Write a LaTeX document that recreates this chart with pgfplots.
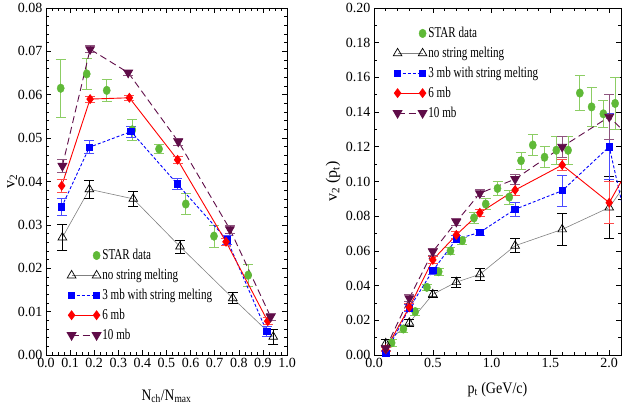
\documentclass[border=0pt]{standalone}
\usepackage{pgfplots}
\pgfplotsset{compat=1.18}
\usepackage{fontspec}
\setmainfont{Liberation Serif}
\definecolor{stargreen}{RGB}{95,185,55}
\definecolor{stargreenlt}{RGB}{140,205,100}
\definecolor{tenmb}{RGB}{95,12,72}
\pgfplotsset{
  twoend/.style={legend image code/.code={\draw[##1] plot coordinates {(0pt,0pt) (25pt,0pt)};}},
  oneend/.style={legend image code/.code={\path[draw=none,fill=none] (0pt,0pt)--(25pt,0pt); \draw[##1] plot[only marks] coordinates {(25pt,0pt)};}},
  errb/.style={error bars/y dir=both, error bars/y explicit, error bars/error bar style={#1, line width=0.7pt, solid},
     error bars/error mark options={rotate=90, mark size=5pt, #1, line width=0.7pt, solid}},
  starS/.style={only marks, mark=*, mark size=3.6pt, color=stargreen, mark options={yscale=1.2}, errb=stargreenlt, oneend},
  nosmS/.style={color=gray, line width=0.6pt, mark=triangle, mark size=5pt, mark options={black, solid, fill=white, line width=0.7pt}, errb=black, twoend},
  threeS/.style={color=blue, densely dashed, line width=0.9pt, mark=square*, mark size=3.2pt, mark options={solid}, errb={blue!70}, twoend},
  sixS/.style={color=red, line width=0.9pt, mark=diamond*, mark size=4.3pt, mark options={solid}, errb={red!70}, twoend},
  tenS/.style={color=tenmb, dashed, dash pattern=on 7pt off 4pt, line width=0.9pt, mark=triangle*, mark size=5pt, mark options={solid, rotate=180}, errb={tenmb!70}, twoend},
  common/.style={scale only axis, axis line style={line width=0.8pt}, tick align=inside,
    major tick length=5pt, minor tick length=3pt, tick style={black, line width=0.6pt},
    ticklabel style={font=\fontsize{14}{16}\selectfont},
    label style={font=\fontsize{16}{18}\selectfont},
    /pgf/number format/assume math mode=true,
    legend style={draw=none, fill=none, font=\fontsize{15}{17}\selectfont, row sep=4pt,
      nodes={xscale=0.74}},
    legend cell align=left},
}
\begin{document}
\begin{tikzpicture}[x=1pt,y=1pt]
\useasboundingbox (0,0) rectangle (627,409);
\begin{axis}[common, at={(46pt,54pt)}, anchor=south west, width=241pt, height=347pt,
  xmin=0, xmax=1, ymin=0, ymax=0.08,
  xtick={0,0.1,...,1.0}, ytick={0,0.01,...,0.08},
  minor x tick num=3, minor y tick num=4,
  xticklabel style={/pgf/number format/.cd, fixed, fixed zerofill, precision=1},
  yticklabel style={/pgf/number format/.cd, fixed, fixed zerofill, precision=2},
  scaled ticks=false,
  xlabel={N\textsubscript{ch}/N\textsubscript{max}}, ylabel={v\textsubscript{2}},
  xlabel style={at={(axis description cs:0.5,-0.13)}, anchor=base, xscale=0.85},
  ylabel style={at={(axis description cs:-0.14,0.5)}, anchor=center},
  legend style={at={(0.075,0.316)}, anchor=north west}]
\addplot[starS] coordinates {
 (0.061,0.0615) +- (0,0.0067) (0.169,0.0648) +- (0,0.0035) (0.252,0.0610) +- (0,0.0025)
 (0.358,0.0519) +- (0,0.0024) (0.469,0.0475) +- (0,0.0010) (0.580,0.0348) +- (0,0.0024)
 (0.697,0.0274) +- (0,0.0025) (0.839,0.0184) +- (0,0.0025)};
\addlegendentry{STAR data}
\addplot[nosmS] coordinates {
 (0.068,0.0271) +- (0,0.0030) (0.180,0.0382) +- (0,0.0020) (0.362,0.0360) +- (0,0.0017)
 (0.556,0.0250) +- (0,0.0015) (0.775,0.0131) +- (0,0.0013) (0.943,0.0042) +- (0,0.0018)};
\addlegendentry{no string melting}
\addplot[threeS] coordinates {
 (0.065,0.0341) +- (0,0.0020) (0.180,0.0479) +- (0,0.0015) (0.353,0.0515) +- (0,0.0013)
 (0.545,0.0394) +- (0,0.0013) (0.752,0.0265) +- (0,0.0010) (0.916,0.0054) +- (0,0.0012)};
\addlegendentry{3 mb with string melting}
\addplot[sixS] coordinates {
 (0.065,0.0390) +- (0,0.0014) (0.183,0.0590) +- (0,0.0007) (0.346,0.0593) +- (0,0.0006)
 (0.546,0.0450) +- (0,0.0008) (0.747,0.0261) +- (0,0.0008) (0.920,0.0078) +- (0,0.0008)};
\addlegendentry{6 mb}
\addplot[tenS] coordinates {
 (0.068,0.0436) +- (0,0.0015) (0.183,0.0705) +- (0,0.0008) (0.341,0.0651) +- (0,0.0006)
 (0.549,0.0492) +- (0,0.0008) (0.763,0.0290) +- (0,0.0010) (0.932,0.0088) +- (0,0.0008)};
\addlegendentry{10 mb}
\end{axis}
\begin{axis}[common, at={(374pt,54pt)}, anchor=south west, width=247pt, height=347pt,
  xmin=0, xmax=2.1, ymin=0, ymax=0.2,
  xtick={0,0.5,...,2.0}, ytick={0,0.02,...,0.2},
  minor x tick num=4, minor y tick num=1,
  xticklabel style={/pgf/number format/.cd, fixed, fixed zerofill, precision=1},
  yticklabel style={/pgf/number format/.cd, fixed, fixed zerofill, precision=2},
  scaled ticks=false,
  xlabel={p\textsubscript{t} (GeV/c)}, ylabel={v\textsubscript{2} (p\textsubscript{t})},
  xlabel style={at={(axis description cs:0.5,-0.11)}, anchor=base, xscale=0.88},
  ylabel style={at={(axis description cs:-0.166,0.5)}, anchor=center},
  legend style={at={(0.065,0.956)}, anchor=north west}]
\addplot[starS] coordinates {
 (0.15,0.007) +- (0,0.002) (0.25,0.015) +- (0,0.002) (0.35,0.025) +- (0,0.002)
 (0.45,0.039) +- (0,0.002) (0.55,0.048) +- (0,0.002) (0.65,0.060) +- (0,0.002)
 (0.75,0.066) +- (0,0.002) (0.85,0.079) +- (0,0.003) (0.95,0.087) +- (0,0.003)
 (1.05,0.096) +- (0,0.004) (1.15,0.091) +- (0,0.004) (1.25,0.112) +- (0,0.005)
 (1.35,0.121) +- (0,0.006) (1.45,0.114) +- (0,0.006) (1.55,0.118) +- (0,0.008)
 (1.65,0.118) +- (0,0.008) (1.75,0.151) +- (0,0.010) (1.85,0.143) +- (0,0.011)
 (1.95,0.139) +- (0,0.008) (2.05,0.145) +- (0,0.015)};
\addlegendentry{STAR data}
\addplot[nosmS] coordinates {
 (0.1,0.0067) +- (0,0.0024) (0.3,0.0186) +- (0,0.002) (0.5,0.035) +- (0,0.002)
 (0.7,0.042) +- (0,0.003) (0.9,0.0465) +- (0,0.0035) (1.2,0.063) +- (0,0.004)
 (1.6,0.0724) +- (0,0.009) (2.0,0.085) +- (0,0.018) (2.4,0.124) +- (0,0)};
\addlegendentry{no string melting}
\addplot[threeS] coordinates {
 (0.1,0.001) +- (0,0.001) (0.3,0.027) +- (0,0.002) (0.5,0.0486) +- (0,0.002)
 (0.7,0.0667) +- (0,0.002) (0.9,0.0707) +- (0,0.002) (1.2,0.084) +- (0,0.004)
 (1.6,0.0947) +- (0,0.009) (2.0,0.120) +- (0,0.019) (2.4,0.0) +- (0,0)};
\addlegendentry{3 mb with string melting}
\addplot[sixS] coordinates {
 (0.1,0.0033) +- (0,0.001) (0.3,0.0275) +- (0,0.002) (0.5,0.0548) +- (0,0.002)
 (0.7,0.0692) +- (0,0.002) (0.9,0.082) +- (0,0.002) (1.2,0.0951) +- (0,0.003)
 (1.6,0.1095) +- (0,0.003) (2.0,0.0878) +- (0,0.012) (2.4,0.136) +- (0,0)};
\addlegendentry{6 mb}
\addplot[tenS] coordinates {
 (0.1,0.0039) +- (0,0.001) (0.3,0.0327) +- (0,0.002) (0.5,0.0596) +- (0,0.002)
 (0.7,0.0768) +- (0,0.002) (0.9,0.0932) +- (0,0.002) (1.2,0.1014) +- (0,0.003)
 (1.6,0.120) +- (0,0.006) (2.0,0.1373) +- (0,0.013) (2.4,0.110) +- (0,0)};
\addlegendentry{10 mb}
\end{axis}
\end{tikzpicture}
\end{document}
